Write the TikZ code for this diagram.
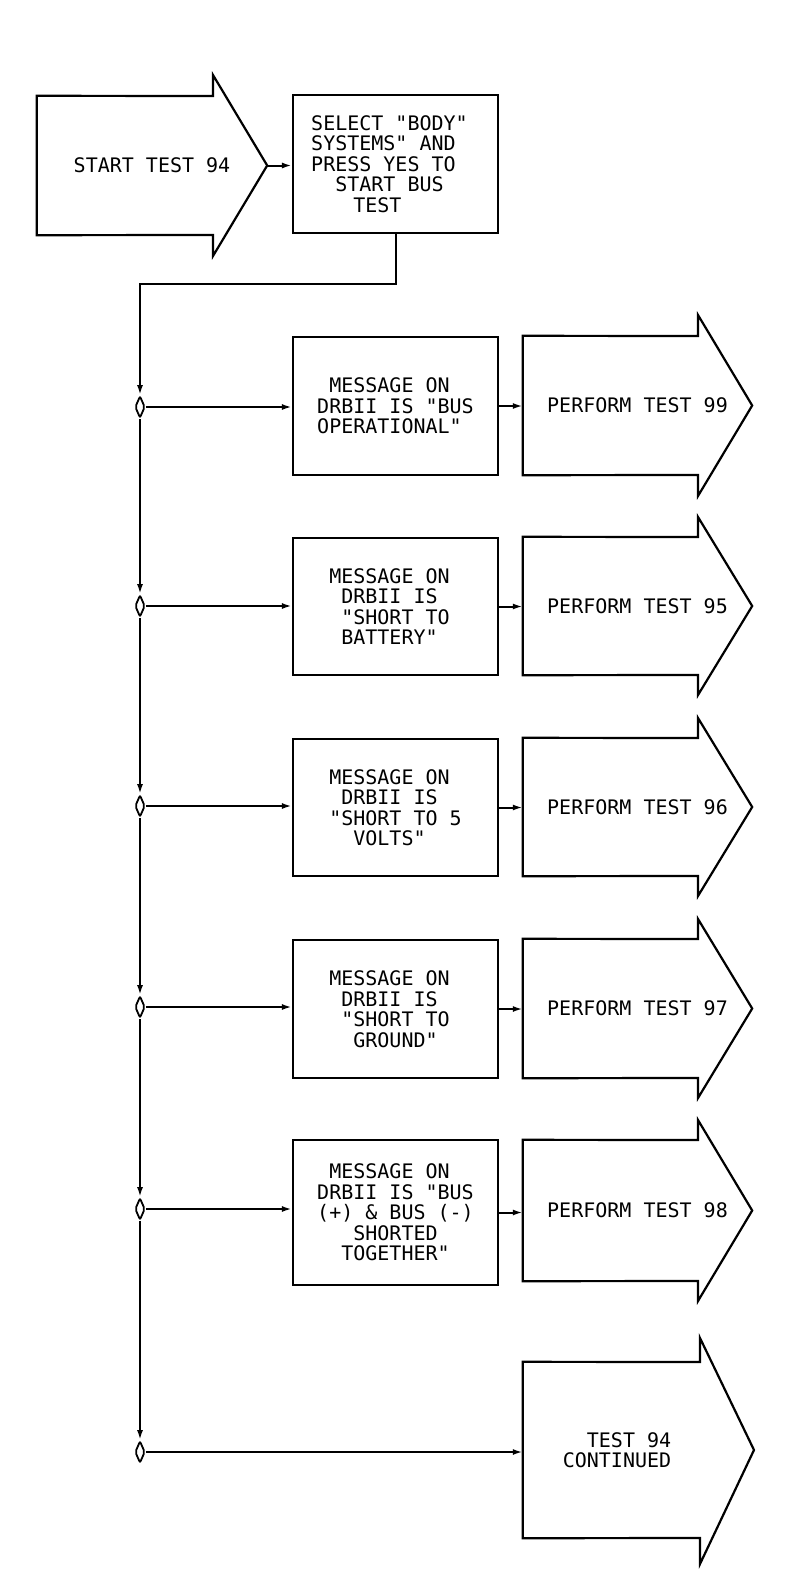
\documentclass[tikz,border=0pt]{standalone}
\usepackage{fontspec}
\newfontfamily\plotfont{DejaVu Sans Mono}
\usetikzlibrary{arrows.meta,shapes.geometric,calc}
\newcommand\ind[1]{\hspace*{#1\fontcharwd\font`X}}
\begin{document}
\begin{tikzpicture}[x=1pt,y=-1pt,
  txt/.style={font=\plotfont\fontsize{20}{20.5}\selectfont, align=left, inner sep=0pt},
  msgbox/.style={txt, draw, line width=2.2pt, minimum width=205pt, minimum height=138pt},
  arrowbody/.style={txt, minimum height=139pt, minimum width=229pt},
  outline/.style={line width=2.2pt, line join=miter},
  dia/.style={draw, diamond, line width=1.8pt, minimum width=10pt, minimum height=22pt, inner sep=0pt, rounded corners=2pt},
  conn/.style={line width=2pt, -{Latex[length=10pt,width=6pt]}}]
\fill[white] (0,0) rectangle (790,1576);
\useasboundingbox (0,0) rectangle (790,1576);

% start arrow
\node[arrowbody, minimum width=230pt] (s) at (152,165.5) {START TEST 94};
\draw[outline] (s.north west) -- (213,96) -- (213,75) -- (s.east) -- (213,256) -- (213,235) -- (s.south west) -- cycle;

% select box
\node[msgbox] (b0) at (395.5,164) {SELECT "BODY"\ind{1}\\SYSTEMS" AND\\PRESS YES TO\\\ind{2}START BUS\\\ind{3.5}TEST};

% message boxes
\node[msgbox] (b1) at (395.5,406) {\ind{1}MESSAGE ON\\DRBII IS "BUS\\OPERATIONAL"};
\node[msgbox, minimum height=137pt] (b2) at (395.5,606.5) {MESSAGE ON\ind{1}\\\ind{1}DRBII IS\\\ind{1}"SHORT TO\\\ind{1}BATTERY"};
\node[msgbox, minimum height=137pt] (b3) at (395.5,807.5) {MESSAGE ON\\\ind{1}DRBII IS\\"SHORT TO 5\\\ind{2}VOLTS"};
\node[msgbox] (b4) at (395.5,1009) {MESSAGE ON\ind{1}\\\ind{1}DRBII IS\\\ind{1}"SHORT TO\\\ind{2}GROUND"};
\node[msgbox, minimum height=145pt] (b5) at (395.5,1212.5) {\ind{1}MESSAGE ON\\DRBII IS "BUS\\(+) \& BUS (-)\\\ind{3}SHORTED\\\ind{2}TOGETHER"};

% perform arrows
\node[arrowbody] (p1) at (637.5,405.5) {PERFORM TEST 99};
\draw[outline] (p1.north west) -- (698,336) -- (698,315) -- (p1.east) -- (698,496) -- (698,475) -- (p1.south west) -- cycle;
\node[arrowbody, minimum height=138pt] (p2) at (637.5,606) {PERFORM TEST 95};
\draw[outline] (p2.north west) -- (698,537) -- (698,517) -- (p2.east) -- (698,695) -- (698,675) -- (p2.south west) -- cycle;
\node[arrowbody, minimum height=138pt] (p3) at (637.5,807) {PERFORM TEST 96};
\draw[outline] (p3.north west) -- (698,738) -- (698,718) -- (p3.east) -- (698,896) -- (698,876) -- (p3.south west) -- cycle;
\node[arrowbody] (p4) at (637.5,1008.5) {PERFORM TEST 97};
\draw[outline] (p4.north west) -- (698,939) -- (698,919) -- (p4.east) -- (698,1098) -- (698,1078) -- (p4.south west) -- cycle;
\node[arrowbody, minimum height=141pt] (p5) at (637.5,1210.5) {PERFORM TEST 98};
\draw[outline] (p5.north west) -- (698,1140) -- (698,1120) -- (p5.east) -- (698,1301) -- (698,1281) -- (p5.south west) -- cycle;

% continued arrow
\node[txt, minimum width=188pt, minimum height=176pt] (c) at (617,1450) {\ind{2}TEST 94\\CONTINUED};
\draw[outline] (c.north west) -- (700,1362) -- (700,1338) -- (754,1450) -- (700,1564) -- (700,1538) -- (c.south west) -- cycle;

% junction diamonds
\node[dia] (d1) at (140,407) {};
\node[dia] (d2) at (140,606) {};
\node[dia] (d3) at (140,806) {};
\node[dia] (d4) at (140,1007) {};
\node[dia] (d5) at (140,1209) {};
\node[dia] (d6) at (140,1452) {};
\coordinate (k) at (140,284);

% connectors
\draw[conn] (s.east) -- (s.east -| b0.west);
\draw[conn] (b0.south) |- (k) -- (d1.north);
\draw[conn] (d1.south) -- (d2.north);
\draw[conn] (d2.south) -- (d3.north);
\draw[conn] (d3.south) -- (d4.north);
\draw[conn] (d4.south) -- (d5.north);
\draw[conn] (d5.south) -- (d6.north);
\draw[conn] (d1.east) -- (d1.east -| b1.west);
\draw[conn] (d2.east) -- (d2.east -| b2.west);
\draw[conn] (d3.east) -- (d3.east -| b3.west);
\draw[conn] (d4.east) -- (d4.east -| b4.west);
\draw[conn] (d5.east) -- (d5.east -| b5.west);
\draw[conn] (d6.east) -- (d6.east -| c.west);
\draw[conn] (b1.east) -- (b1.east -| p1.west);
\draw[conn] (b2.east) -- (b2.east -| p2.west);
\draw[conn] (b3.east) -- (b3.east -| p3.west);
\draw[conn] (b4.east) -- (b4.east -| p4.west);
\draw[conn] (b5.east) -- (b5.east -| p5.west);
\end{tikzpicture}
\end{document}
